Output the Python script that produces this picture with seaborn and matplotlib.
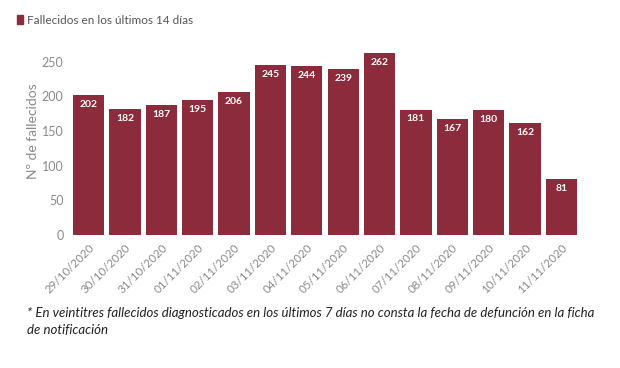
import matplotlib
matplotlib.use("Agg")
import matplotlib.pyplot as plt
import seaborn as sns
import pandas as pd

fechas = ["29/10/2020", "30/10/2020", "31/10/2020", "01/11/2020", "02/11/2020",
          "03/11/2020", "04/11/2020", "05/11/2020", "06/11/2020", "07/11/2020",
          "08/11/2020", "09/11/2020", "10/11/2020", "11/11/2020"]
fallecidos = [202, 182, 187, 195, 206, 245, 244, 239, 262, 181, 167, 180, 162, 81]
yticks = [0, 50, 100, 150, 200, 250]

sns.set_theme(style="white")
plt.rcParams['font.family'] = ['Lato', 'DejaVu Sans']

color = "#8B2B3B"
df = pd.DataFrame({"fecha": fechas, "n": fallecidos})

fig = plt.figure(figsize=(6.2, 3.68), dpi=100)
ax = fig.add_axes([0.1137, 0.3614, 0.821, 0.565])
sns.barplot(data=df, x="fecha", y="n", color=color, width=0.86, ax=ax,
            saturation=1, edgecolor="none")
ax.set_xlim(-0.5, len(fechas) - 0.5)
ax.set_ylim(0, 300)
ax.set_yticks(yticks)
ax.set_yticklabels([str(v) for v in yticks], color="#8a8a8a", fontsize=9)
ax.set_xticks(range(len(fechas)))
ax.set_xticklabels(fechas, rotation=45, ha="right", rotation_mode="anchor",
                   color="#8a8a8a", fontsize=8.3)
ax.tick_params(axis="both", length=0, pad=5)
ax.set_xlabel("")
ax.set_ylabel("Nº de fallecidos", color="#8a8a8a", fontsize=10, labelpad=2)
for s in ax.spines.values():
    s.set_visible(False)

for i, v in enumerate(fallecidos):
    ax.text(i, v - 7, str(v), ha="center", va="top", color="white",
            fontsize=7.5, fontweight="bold")

# legend-style title
fig.patches.append(matplotlib.patches.Rectangle((17 / 620, 1 - 24 / 368), 6 / 620, 9 / 368,
                                               transform=fig.transFigure, color=color))
fig.text(27 / 620, 1 - 20 / 368, "Fallecidos en los últimos 14 días", color="#555555",
         fontsize=8.5, va="center", ha="left")

fig.text(27 / 620, 1 - 313 / 368,
         "* En veintitres fallecidos diagnosticados en los últimos 7 días no consta la fecha de defunción en la ficha",
         fontsize=9.5, style="italic", color="#222222", va="center", ha="left")
fig.text(27 / 620, 1 - 330 / 368, "de notificación",
         fontsize=9.5, style="italic", color="#222222", va="center", ha="left")

fig.savefig("out.png", dpi=100, facecolor="white")
